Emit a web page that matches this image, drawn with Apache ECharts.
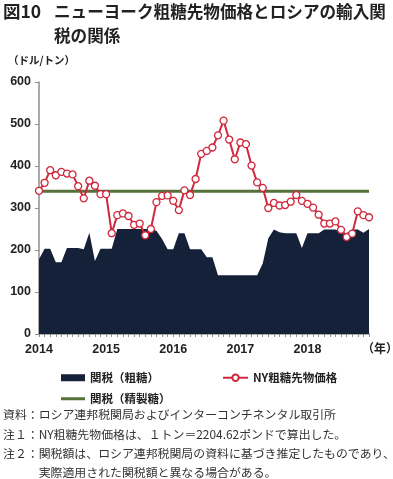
<!DOCTYPE html>
<html>
<head>
<meta charset="utf-8">
<script src="https://cdn.jsdelivr.net/npm/echarts@6/dist/echarts.min.js"></script>
<style>
html,body{margin:0;padding:0;background:#fff;}
#chart{width:393px;height:479px;}
</style>
</head>
<body>
<div id="chart"></div>
<script>
// ---- data ----
var years = ['2014','2015','2016','2017','2018'];
var monthNums = ['01','02','03','04','05','06','07','08','09','10','11','12'];
var categories = [];
years.forEach(function(y){ monthNums.forEach(function(m){ categories.push(y + '-' + m); }); });

// 関税（粗糖） USD/t, monthly Jan 2014 - Dec 2018
var dutyRaw = [
  178,203,203,171,171,205,205,205,202,241,174,203,
  203,203,250,250,250,250,250,250,250,246,226,202,
  202,240,240,202,202,202,183,183,140,140,140,140,
  140,140,140,140,168,228,249,242,240,240,240,205,
  240,240,240,249,249,249,244,240,249,249,241,250
];
// 関税（精製糖）
var dutyRefined = [
  340,340,340,340,340,340,340,340,340,340,340,340,
  340,340,340,340,340,340,340,340,340,340,340,340,
  340,340,340,340,340,340,340,340,340,340,340,340,
  340,340,340,340,340,340,340,340,340,340,340,340,
  340,340,340,340,340,340,340,340,340,340,340,340
];
// NY粗糖先物価格
var nyPrice = [
  341,360,390,378,386,382,380,352,323,365,353,333,
  333,240,283,287,281,260,263,235,250,314,329,330,
  317,295,342,331,369,429,436,444,473,508,463,416,
  456,452,401,361,348,300,312,306,307,315,331,317,
  310,301,284,263,263,268,248,231,239,292,283,278
];
var yTicks = [0,100,200,300,400,500,600];

var seriesNames = ['関税（粗糖）','関税（精製糖）','NY粗糖先物価格'];
var titleLines = ['ニューヨーク粗糖先物価格とロシアの輸入関','税の関係'];
var notes = [
  '資料：ロシア連邦税関局およびインターコンチネンタル取引所',
  '注１：NY粗糖先物価格は、１トン＝2204.62ポンドで算出した。',
  '注２：関税額は、ロシア連邦税関局の資料に基づき推定したものであり、',
  '　　　実際適用された関税額と異なる場合がある。'
];

var NAVY = '#152139';
var RED = '#d0283c';
var GREEN = '#56723a';
var AXIS = '#8e8e8e';
var FONT = '"Noto Sans CJK JP", "Liberation Sans", sans-serif';

var chart = echarts.init(document.getElementById('chart'), null, {renderer:'canvas'});

var legendText = {fontSize:11.5, fontWeight:'bold', color:'#222', fontFamily:FONT};

var option = {
  animation:false,
  textStyle:{fontFamily:FONT},
  grid:{left:39, right:24, top:82, bottom:145, containLabel:false},
  legend:[
    {data:[{name:seriesNames[0], icon:'rect'}], left:56, top:367, itemWidth:24, itemHeight:7,
     textStyle:legendText, selectedMode:false},
    {data:[{name:seriesNames[1], icon:'rect'}], left:56, top:388, itemWidth:24, itemHeight:3,
     textStyle:legendText, selectedMode:false},
    {data:[{name:seriesNames[2]}], left:217, top:367, itemWidth:25, itemHeight:8,
     textStyle:legendText, selectedMode:false}
  ],
  xAxis:{
    type:'category', data:categories, boundaryGap:false,
    axisLine:{lineStyle:{color:AXIS, width:1.5}},
    axisTick:{show:true, interval:0, length:3, lineStyle:{color:AXIS, width:1}},
    axisLabel:{interval:11, margin:9, fontSize:12.5, fontWeight:'bold', color:'#222',
      fontFamily:'"Liberation Sans", Arial, sans-serif',
      formatter:function(v){ return v.slice(0,4); }},
    splitLine:{show:false}
  },
  yAxis:{
    type:'value', min:yTicks[0], max:yTicks[yTicks.length-1], interval:100,
    axisLine:{show:true, lineStyle:{color:AXIS, width:1.5}},
    axisTick:{show:true, length:4, lineStyle:{color:AXIS, width:1}},
    axisLabel:{margin:8, fontSize:12.5, fontWeight:'bold', color:'#222',
      fontFamily:'"Liberation Sans", Arial, sans-serif'},
    splitLine:{show:false}
  },
  series:[
    {name:seriesNames[0], type:'line', data:dutyRaw, symbol:'none',
     lineStyle:{width:0, color:NAVY}, itemStyle:{color:NAVY},
     areaStyle:{color:NAVY, opacity:1}, z:1},
    {name:seriesNames[1], type:'line', data:dutyRefined, symbol:'none',
     lineStyle:{width:3, color:GREEN}, itemStyle:{color:GREEN}, z:2},
    {name:seriesNames[2], type:'line', data:nyPrice, symbol:'circle', symbolSize:7,
     showAllSymbol:true,
     lineStyle:{width:2, color:RED},
     itemStyle:{color:'#fff', borderColor:RED, borderWidth:1.3}, z:3}
  ],
  graphic:[
    {type:'text', left:3, top:3, style:{text:'図10', font:'bold 17.5px ' + FONT, fill:'#222'}},
    {type:'text', left:54, top:3.5, style:{text:titleLines[0], font:'bold 16.6px ' + FONT, fill:'#222'}},
    {type:'text', left:54, top:27, style:{text:titleLines[1], font:'bold 16.6px ' + FONT, fill:'#222'}},
    {type:'text', left:8, top:55, style:{text:'（ドル/トン）', font:'bold 10.5px ' + FONT, fill:'#222'}},
    {type:'text', left:362, top:342, style:{text:'（年）', font:'bold 12px ' + FONT, fill:'#222'}},
    {type:'text', left:3, top:409, style:{text:notes[0], font:'11.9px ' + FONT, fill:'#333'}},
    {type:'text', left:3, top:428.5, style:{text:notes[1], font:'11.9px ' + FONT, fill:'#333'}},
    {type:'text', left:3, top:448, style:{text:notes[2], font:'11.9px ' + FONT, fill:'#333'}},
    {type:'text', left:3, top:467, style:{text:notes[3], font:'11.9px ' + FONT, fill:'#333'}}
  ]
};
chart.setOption(option);
</script>
</body>
</html>
